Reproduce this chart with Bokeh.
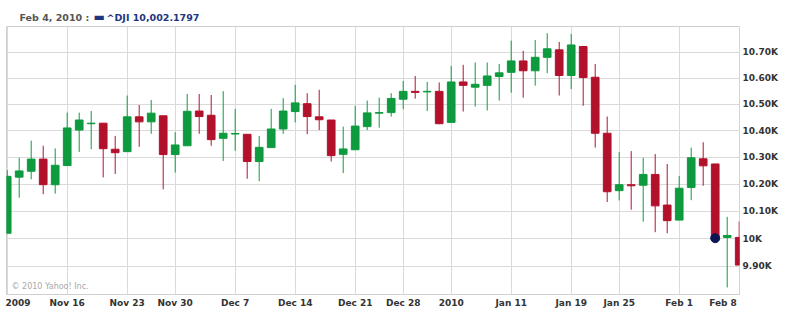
from bokeh.plotting import figure
from bokeh.layouts import column
from bokeh.models import ColumnDataSource, FixedTicker, Range1d, Label
from bokeh.embed import file_html
from bokeh.resources import INLINE

# Trading days Nov 9, 2009 .. Feb 8, 2010 (index = trading day number)
dates = ["Nov 9", "Nov 10", "Nov 11", "Nov 12", "Nov 13",
         "Nov 16", "Nov 17", "Nov 18", "Nov 19", "Nov 20",
         "Nov 23", "Nov 24", "Nov 25", "Nov 27",
         "Nov 30", "Dec 1", "Dec 2", "Dec 3", "Dec 4",
         "Dec 7", "Dec 8", "Dec 9", "Dec 10", "Dec 11",
         "Dec 14", "Dec 15", "Dec 16", "Dec 17", "Dec 18",
         "Dec 21", "Dec 22", "Dec 23", "Dec 24",
         "Dec 28", "Dec 29", "Dec 30", "Dec 31",
         "Jan 4", "Jan 5", "Jan 6", "Jan 7", "Jan 8",
         "Jan 11", "Jan 12", "Jan 13", "Jan 14", "Jan 15",
         "Jan 19", "Jan 20", "Jan 21", "Jan 22",
         "Jan 25", "Jan 26", "Jan 27", "Jan 28", "Jan 29",
         "Feb 1", "Feb 2", "Feb 3", "Feb 4", "Feb 5",
         "Feb 8"]

opens = [10020, 10226, 10248, 10293, 10198,
         10269, 10402, 10426, 10428, 10330,
         10321, 10452, 10433, 10456,
         10310, 10343, 10474, 10458, 10371,
         10387, 10386, 10284, 10336, 10406,
         10472, 10502, 10452, 10440, 10311,
         10328, 10415, 10466, 10468,
         10519, 10549, 10547, 10549,
         10431, 10585, 10565, 10572, 10606,
         10622, 10666, 10628, 10680, 10709,
         10610, 10722, 10603, 10390,
         10176, 10198, 10196, 10236, 10123,
         10068, 10188, 10294, 10275, 10005,
         10005]
highs = [10252, 10298, 10362, 10343, 10333,
         10468, 10468, 10474, 10428, 10380,
         10533, 10497, 10516, 10456,
         10394, 10539, 10539, 10535, 10550,
         10482, 10386, 10380, 10482, 10523,
         10574, 10542, 10555, 10440, 10415,
         10494, 10514, 10525, 10542,
         10589, 10608, 10585, 10583,
         10647, 10651, 10660, 10660, 10654,
         10745, 10705, 10747, 10774, 10740,
         10771, 10722, 10654, 10453,
         10320, 10323, 10298, 10312, 10275,
         10230, 10336, 10356, 10275, 10080,
         10063]
lows = [10020, 10150, 10218, 10163, 10165,
        10269, 10320, 10330, 10225, 10238,
        10321, 10339, 10388, 10181,
        10243, 10343, 10388, 10343, 10286,
        10324, 10220, 10211, 10336, 10388,
        10431, 10387, 10402, 10284, 10241,
        10328, 10402, 10411, 10453,
        10481, 10521, 10474, 10424,
        10431, 10472, 10491, 10476, 10514,
        10544, 10525, 10571, 10619, 10533,
        10558, 10494, 10336, 10134,
        10140, 10106, 10062, 10024, 10020,
        10068, 10141, 10194, 9995, 9825,
        9905]
closes = [10229, 10249, 10293, 10198, 10270,
          10410, 10440, 10428, 10332, 10317,
          10452, 10433, 10466, 10310,
          10346, 10473, 10453, 10366, 10390,
          10389, 10284, 10337, 10406, 10474,
          10505, 10453, 10441, 10306, 10331,
          10417, 10467, 10468, 10522,
          10549, 10545, 10549, 10426,
          10585, 10572, 10576, 10608, 10620,
          10666, 10628, 10680, 10713, 10610,
          10728, 10602, 10390, 10172,
          10198, 10194, 10236, 10120, 10066,
          10185, 10298, 10268, 10002.1797, 10012,
          9905]

# week grid lines (first trading day of each week) and their labels
grid_days = [0, 5, 10, 14, 19, 24, 29, 33, 37, 42, 47, 51, 56, 61]
week_labels = {5: "Nov 16", 10: "Nov 23", 14: "Nov 30", 19: "Dec 7",
               24: "Dec 14", 29: "Dec 21", 33: "Dec 28", 37: "2010",
               42: "Jan 11", 47: "Jan 19", 51: "Jan 25", 56: "Feb 1",
               0.9: "2009", 59.65: "Feb 8"}   # edge labels kept inside the plot
y_ticks = [9800, 9900, 10000, 10100, 10200, 10300, 10400, 10500, 10600, 10700, 10800]
y_labels = {9900: "9.90K", 10000: "10K", 10100: "10.10K", 10200: "10.20K",
            10300: "10.30K", 10400: "10.40K", 10500: "10.50K", 10600: "10.60K",
            10700: "10.70K", 9800: "", 10800: ""}

hover_index = 59
hover_date = "Feb 4, 2010 :"
hover_text = "^DJI 10,002.1797"

GREEN = "#0e9a3e"
RED = "#b2112c"
GRID = "#dadada"
NAVY = "#1f3580"
FONT = "DejaVu Sans"

idx = list(range(len(dates)))
colors = [GREEN if c >= o else RED for o, c in zip(opens, closes)]
src = ColumnDataSource(dict(
    x=idx, open=opens, high=highs, low=lows, close=closes,
    top=[max(o, c) for o, c in zip(opens, closes)],
    bottom=[min(o, c) for o, c in zip(opens, closes)],
    color=colors))

# ---- header strip ----
h = figure(width=787, height=26, output_backend="svg", toolbar_location=None,
           x_range=Range1d(0, 787), y_range=Range1d(0, 26),
           x_axis_location=None, y_axis_location=None,
           min_border_left=0, min_border_right=0, min_border_top=0, min_border_bottom=0)
h.outline_line_color = None
h.xgrid.visible = False
h.ygrid.visible = False
h.border_fill_color = "white"
h.add_layout(Label(x=13, y=9.5, x_units="screen", y_units="screen", text=hover_date,
                   text_font=FONT, text_font_style="bold", text_font_size="9.5px",
                   text_color="#555555", text_baseline="middle"))
h.add_layout(Label(x=87, y=10, x_units="screen", y_units="screen", text="\u25ac",
                   text_font=FONT, text_font_size="12px",
                   text_color=NAVY, text_baseline="middle"))
h.add_layout(Label(x=100, y=9.5, x_units="screen", y_units="screen", text=hover_text,
                   text_font=FONT, text_font_style="bold", text_font_size="9.5px",
                   text_color=NAVY, text_baseline="middle"))

# ---- main chart ----
p = figure(width=787, height=285, output_backend="svg", toolbar_location=None,
           y_axis_type="log", y_axis_location="right",
           x_range=Range1d(-0.058, 61.025), y_range=Range1d(9800, 10800),
           min_border_left=6, min_border_right=48, min_border_top=0,
           min_border_bottom=17)
p.background_fill_color = "white"
p.border_fill_color = "white"
p.outline_line_color = "#cfcfcf"

p.segment(x0="x", y0="high", x1="x", y1="low", color="color", line_width=1, source=src)
p.vbar(x="x", width=0.64, top="top", bottom="bottom", fill_color="color",
       line_color="color", line_width=1, source=src)
p.scatter(x=[hover_index], y=[closes[hover_index]], size=9, color="#0b1553")

p.xaxis.ticker = FixedTicker(ticks=list(week_labels.keys()))
p.xaxis.major_label_overrides = week_labels
p.xgrid.ticker = FixedTicker(ticks=grid_days)
p.yaxis.ticker = FixedTicker(ticks=y_ticks)
p.yaxis.major_label_overrides = y_labels
for ax in (p.xaxis, p.yaxis):
    ax.axis_line_color = None
    ax.major_tick_line_color = None
    ax.minor_tick_line_color = None
    ax.major_tick_out = 0
    ax.major_tick_in = 0
    ax.major_label_text_font = FONT
    ax.major_label_text_font_style = "bold"
    ax.major_label_text_font_size = "9px"
    ax.major_label_text_color = "#333333"
    ax.major_label_standoff = 3
p.xgrid.grid_line_color = GRID
p.ygrid.grid_line_color = GRID
p.ygrid.minor_grid_line_color = None

p.add_layout(Label(x=5, y=8, x_units="screen", y_units="screen",
                   text="\u00a9 2010 Yahoo! Inc.", text_font=FONT,
                   text_font_size="8px", text_color="#a8a8a8", text_baseline="middle"))

layout = column(h, p, spacing=0)
open("out.html", "w").write(file_html(layout, INLINE))
